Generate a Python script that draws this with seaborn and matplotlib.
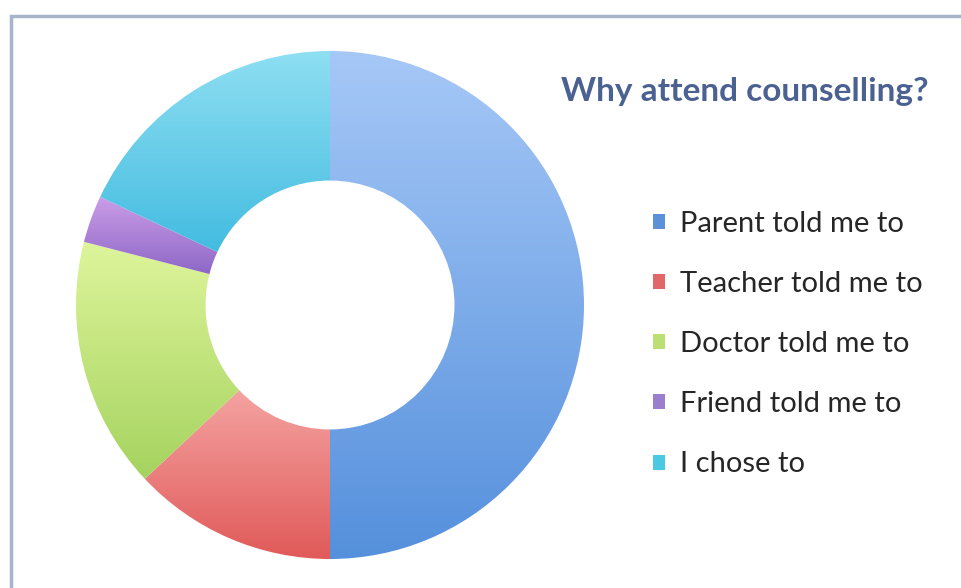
import numpy as np
import matplotlib
matplotlib.use("Agg")
import matplotlib.pyplot as plt
import seaborn as sns
from matplotlib.colors import LinearSegmentedColormap
from matplotlib.patches import Patch, Rectangle

# Reasons for attending counselling (share of respondents, %)
categories = ["Parent told me to", "Teacher told me to", "Doctor told me to",
              "Friend told me to", "I chose to"]
shares = [50, 13, 16, 3, 18]

# gradient colours for each slice: (top, bottom)
slice_top = ["#a6c8f7", "#f4a3a1", "#def59b", "#cb9de8", "#8fdff2"]
slice_bottom = ["#5590dc", "#e05a59", "#a5d35f", "#8e68c7", "#43bce0"]
legend_colors = ["#5c91da", "#e06868", "#bcdf74", "#9b7ecd", "#4cc9e2"]

title = "Why attend counselling?"

sns.set_theme(style="white")
plt.rcParams["font.family"] = ["Lato", "DejaVu Sans"]

W, H = 961, 588
fig = plt.figure(figsize=(W / 100, H / 100), dpi=100)
fig.patch.set_facecolor("white")

# chart frame (runs off the right and bottom edges)
fig.patches.append(Rectangle((11 / W, -0.1), 1.2, (H - 16) / H + 0.1,
                             transform=fig.transFigure, fill=False,
                             edgecolor="#a7b5c9", linewidth=2.5, zorder=0))

# donut axes centred at (330, 305) px with outer radius 254 px
cx, cy, r = 330, 305, 254
ax = fig.add_axes([(cx - r) / W, (H - cy - r) / H, 2 * r / W, 2 * r / H])
ax.set_axis_off()

wedges, _ = ax.pie(shares, startangle=90, counterclock=False, radius=1.0,
                   wedgeprops=dict(width=0.51, linewidth=0))

grad = np.linspace(0, 1, 256).reshape(-1, 1)
for w, top, bot in zip(wedges, slice_top, slice_bottom):
    w.set_facecolor("none")
    w.set_edgecolor("none")
    ext = w.get_path().get_extents()
    cmap = LinearSegmentedColormap.from_list("g", [bot, top])
    im = ax.imshow(grad, extent=[ext.x0, ext.x1, ext.y0, ext.y1],
                   origin="lower", cmap=cmap, aspect="auto",
                   interpolation="bicubic", zorder=1)
    im.set_clip_path(w)

ax.set_xlim(-1.0, 1.0)
ax.set_ylim(-1.0, 1.0)
ax.set_aspect("equal")

# title
fig.text(745 / W, 1 - 92 / H, title, ha="center", va="center",
         fontsize=24, fontweight="bold", color="#4a6191")

# legend
handles = [Patch(facecolor=c, edgecolor="none") for c in legend_colors]
leg = fig.legend(handles, categories, loc="upper left",
                 bbox_to_anchor=(653 / W, 1 - 211 / H),
                 frameon=False, fontsize=21, labelcolor="#262626",
                 handlelength=0.41, handleheight=0.41, handletextpad=0.5,
                 labelspacing=1.17, borderaxespad=0, borderpad=0)

fig.savefig("out.png", dpi=100, facecolor="white")
